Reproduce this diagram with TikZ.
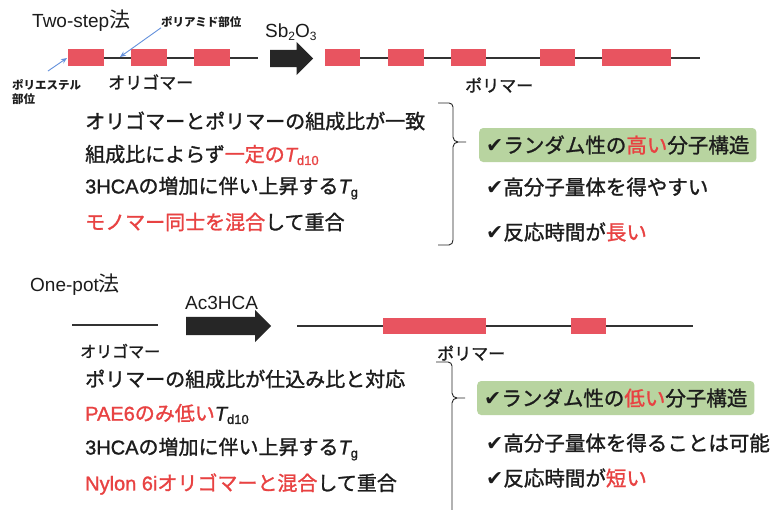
\documentclass[tikz,border=0pt]{standalone}
\usepackage{fontspec}
\setmainfont{Liberation Sans}
\newfontfamily\jp[FakeBold=1.3]{Noto Sans CJK JP}
\newfontfamily\jpt{Noto Sans CJK JP}
\newfontfamily\latf{Liberation Sans}
\newfontfamily\latb[FakeBold=1.3]{Liberation Sans}
\newfontfamily\latbi[FakeBold=1.3]{Liberation Sans Italic}
\newfontfamily\ckf{DejaVu Sans}
\usetikzlibrary{arrows.meta,shapes.arrows}
\definecolor{boxred}{RGB}{232,84,96}
\definecolor{txtred}{RGB}{232,66,66}
\definecolor{boxgreen}{RGB}{184,212,160}
\definecolor{ptrblue}{RGB}{100,145,220}
\definecolor{txt}{RGB}{28,28,28}
\newcommand\Tsub[1]{{\latbi T}\raisebox{-0.3ex}{\latb\fontsize{13}{13}\selectfont #1}}
\newcommand\ck{{\ckf\char"2714}}
\begin{document}
\begin{tikzpicture}[x=1pt,y=-1pt,
  jt/.style={font=\jp\fontsize{20}{24}\selectfont, anchor=west, inner sep=0, text=txt},
  rt/.style={font=\jp\fontsize{20.5}{24}\selectfont, anchor=west, inner sep=0, text=txt},
  gbox/.style={rt, fill=boxgreen, rounded corners=4pt, inner xsep=7pt, minimum height=34pt},
  lab/.style={font=\jp\fontsize{17}{20}\selectfont, anchor=west, inner sep=0, text=txt},
  small/.style={font=\jpt\bfseries\fontsize{11.5}{13}\selectfont, anchor=west, inner sep=0, text=txt},
  ttl/.style={font=\latf\fontsize{19}{22}\selectfont, anchor=west, inner sep=0, text=txt},
  seg/.style={fill=boxred, draw=none},
  chainline/.style={line width=1.3pt, draw=black!80},
  bigarrow/.style={single arrow, fill=black!85, draw=none, inner sep=0, anchor=west},
  ptr/.style={draw=ptrblue, line width=0.9pt, -{Stealth[length=6pt,width=5pt]}},
  brace/.style={draw=black!85, line width=0.9pt}
]
\useasboundingbox (0,0) rectangle (784,509);
\fill[white] (0,0) rectangle (784,509);

% ---------- Two-step ----------
\node[ttl] (ts) at (32,21) {Two-step{\jpt\fontsize{21}{22}\selectfont 法}};
\node[small] (pa) at (161,22) {ポリアミド部位};
\node[small] (pe1) at (12,85) {ポリエステル};
\node[small] (pe2) at (12,99) {部位};

% oligomer chain
\draw[chainline] (68,58) -- (258,58);
\fill[seg] (68,49) rectangle (104,66);
\fill[seg] (131,49) rectangle (167,66);
\fill[seg] (194,49) rectangle (230,66);
\coordinate (pahit) at (120,57);
\coordinate (pehit) at (67,58);
\coordinate (pefrom) at (48,71);
\draw[ptr] (pa.south west) -- (pahit);
\draw[ptr] (pefrom) -- (pehit);
\node[lab] (ol1) at (108,82) {オリゴマー};

% arrow
\node[bigarrow, minimum height=43pt, text height=8.5pt, text depth=8.5pt, single arrow head extend=8pt] (ar1) at (270,58.5) {};
\node[ttl] (sb) at (265,32) {Sb\raisebox{-0.3ex}{\fontsize{12}{12}\selectfont 2}O\raisebox{-0.3ex}{\fontsize{12}{12}\selectfont 3}};

% polymer chain
\draw[chainline] (325,58) -- (700,58);
\fill[seg] (325,49) rectangle (360,66);
\fill[seg] (388,49) rectangle (424,66);
\fill[seg] (451,49) rectangle (486,66);
\fill[seg] (540,49) rectangle (575,66);
\fill[seg] (602,49) rectangle (671,66);
\node[lab] (po1) at (465,85) {ポリマー};

% text block 1
\node[jt] (a1) at (85,121) {オリゴマーとポリマーの組成比が一致};
\node[jt] (a2) at (85,155) {組成比によらず\textcolor{txtred}{一定の\Tsub{d10}}};
\node[jt] (a3) at (85,188) {{\latb 3HCA}の増加に伴い上昇する\Tsub{g}};
\node[jt] (a4) at (85,222) {\textcolor{txtred}{モノマー同士を混合}して重合};

% brace 1
\draw[brace] (438,103) -- (449,103) to[out=0,in=90] (453,107) -- (453,137)
  to[out=-90,in=180] (458,142) -- (466,142);
\draw[brace] (458,142) to[out=180,in=90] (453,147) -- (453,240) to[out=-90,in=0] (449,245) -- (438,245);

% right block 1
\node[gbox] (b1) at (479,145) {\ck ランダム性の\textcolor{txtred}{高い}分子構造};
\node[rt] (b2) at (486,187) {\ck 高分子量体を得やすい};
\node[rt] (b3) at (486,232) {\ck 反応時間が\textcolor{txtred}{長い}};

% ---------- One-pot ----------
\node[ttl] (op) at (30,285) {One-pot{\jpt\fontsize{21}{22}\selectfont 法}};
\node[ttl] (ac) at (185,303) {Ac3HCA};
\draw[chainline] (72,325) -- (158,325);
\node[lab, font=\jp\fontsize{16}{19}\selectfont] (ol2) at (80,351) {オリゴマー};
\node[bigarrow, minimum height=85pt, text height=9pt, text depth=9pt, single arrow head extend=7pt] (ar2) at (186,326) {};

\draw[chainline] (297,326) -- (693,326);
\fill[seg] (383,318) rectangle (486,334);
\fill[seg] (571,318) rectangle (606,334);
\node[lab] (po2) at (437,353) {ポリマー};

% text block 2
\node[jt] (c1) at (85,379) {ポリマーの組成比が仕込み比と対応};
\node[jt] (c2) at (85,414) {\textcolor{txtred}{{\latb PAE6}のみ低い}\Tsub{d10}};
\node[jt] (c3) at (85,449) {{\latb 3HCA}の増加に伴い上昇する\Tsub{g}};
\node[jt] (c4) at (85,484) {\textcolor{txtred}{{\latb Nylon 6i}オリゴマーと混合}して重合};

% brace 2
\draw[brace] (436,362) -- (448,362) to[out=0,in=90] (452,366) -- (452,393)
  to[out=-90,in=180] (457,398) -- (465,398);
\draw[brace] (457,398) to[out=180,in=90] (452,403) -- (452,512);

% right block 2
\node[gbox] (d1) at (477,398) {\ck ランダム性の\textcolor{txtred}{低い}分子構造};
\node[rt] (d2) at (486,443) {\ck 高分子量体を得ることは可能};
\node[rt] (d3) at (486,478) {\ck 反応時間が\textcolor{txtred}{短い}};
\end{tikzpicture}
\end{document}
